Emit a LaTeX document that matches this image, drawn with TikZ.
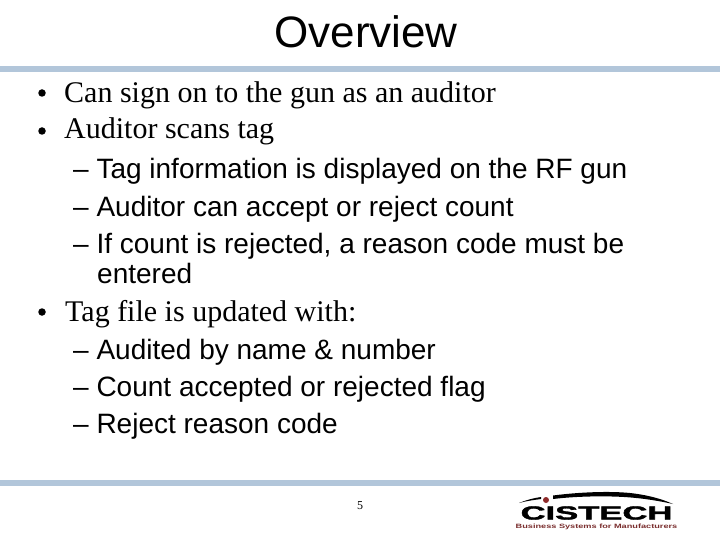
\documentclass[tikz,border=0pt]{standalone}
\usepackage{fontspec}
\setmainfont{Liberation Serif}
\setsansfont{Liberation Sans}
\newfontface\logofont{Liberation Sans Bold}[FakeBold=1.6]
\definecolor{barblue}{HTML}{B2C6DA}
\definecolor{logored}{HTML}{7A2E2E}
\definecolor{dotred}{HTML}{8E2A2A}
\tikzset{
  bodyline/.style={anchor=base west,inner sep=0pt,font=\fontsize{30}{30}\selectfont\rmfamily},
  subline/.style={anchor=base west,inner sep=0pt,font=\fontsize{28}{28}\selectfont\sffamily},
  bulletmark/.style={circle,fill=black,inner sep=0pt,minimum size=7.5pt},
  bar/.style={fill=barblue,draw=none}
}
\begin{document}
\begin{tikzpicture}[x=1pt,y=-1pt]
\useasboundingbox (0,0) rectangle (720,540);
\fill[white] (0,0) rectangle (720,540);
\fill[bar] (0,66) rectangle (720,72);
\fill[bar] (0,480) rectangle (720,486);
\node[anchor=base,inner sep=0pt,font=\fontsize{44}{44}\selectfont\sffamily] (title) at (366,48) {Overview};
\node[bulletmark] (b1) at (42,93) {};
\node[bulletmark] (b2) at (42,131) {};
\node[bulletmark] (b3) at (42,312) {};
\node[bodyline] (t1) at (64,103) {Can sign on to the gun as an auditor};
\node[bodyline] (t2) at (64,139) {Auditor scans tag};
\node[subline] (s1) at (73,179) {– Tag information is displayed on the RF gun};
\node[subline] (s2) at (73,216) {– Auditor can accept or reject count};
\node[subline] (s3) at (73,253) {– If count is rejected, a reason code must be};
\node[subline] (s3b) at (97,283) {entered};
\node[bodyline] (t3) at (65,321) {Tag file is updated with:};
\node[subline] (s4) at (73,359) {– Audited by name \& number};
\node[subline] (s5) at (73,396) {– Count accepted or rejected flag};
\node[subline] (s6) at (73,433) {– Reject reason code};
\node[anchor=base,inner sep=0pt,font=\fontsize{12}{12}\selectfont\rmfamily] (page) at (360,509) {5};
% logo
\fill[black] (519,503) .. controls (526,500) and (534,498) .. (541,497) -- (541,499) .. controls (534,500) and (526,501) .. (519,503) -- cycle;
\fill[black] (553,495.5) .. controls (580,492) and (610,491) .. (630,493)
  .. controls (648,495) and (662,499) .. (673,504)
  .. controls (655,500) and (635,497) .. (612,496.5)
  .. controls (590,496) and (570,497) .. (553,499) -- cycle;
\fill[dotred] (546,500) circle (3pt);
\node[anchor=center,inner sep=0pt,font=\fontsize{19}{19}\logofont,xscale=1.82] (logo) at (596.5,513) {CISTECH};
\node[anchor=center,inner sep=0pt,text=logored,font=\fontsize{6.2}{6.2}\selectfont\sffamily\bfseries,xscale=1.48] (tag) at (596.5,527) {Business Systems for Manufacturers};
\end{tikzpicture}
\end{document}
